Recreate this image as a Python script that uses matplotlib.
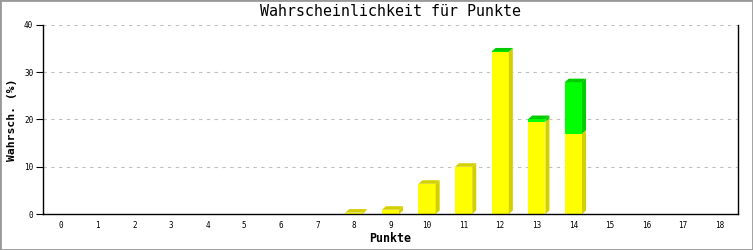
import numpy as np
import matplotlib
matplotlib.use('Agg')
import matplotlib.pyplot as plt
from matplotlib.patches import Polygon, Rectangle

# Data
punkte = list(range(19))
gelb = [0, 0, 0, 0, 0, 0, 0, 0, 0.3, 0.9, 6.4, 10.0, 34.3, 19.5, 17.0, 0, 0, 0, 0]
gruen = [0, 0, 0, 0, 0, 0, 0, 0, 0, 0, 0, 0, 0.1, 0.6, 10.9, 0, 0, 0, 0]

mono = 'DejaVu Sans Mono'
W, H = 753, 250
fig = plt.figure(figsize=(W / 100, H / 100), dpi=100)
ax_l, ax_r, ax_t, ax_b = 43, 738, 25, 214
ax = fig.add_axes([ax_l / W, 1 - ax_b / H, (ax_r - ax_l) / W, (ax_b - ax_t) / H])

x = np.array(punkte)
bw = 0.47
ax.set_xlim(-0.5, 18.5)
ax.set_ylim(0, 40)

# depth of the pseudo-3D faces, in data units (about 4 px)
px_x = (ax_r - ax_l) / 19.0
px_y = (ax_b - ax_t) / 40.0
dx = 4 / px_x
dy = 3.5 / px_y

front = [('#ffff00', '#d4d000'), ('#00ff00', '#00cc00')]
bottom = np.zeros(len(x))
tops = []
for vals, (fc, sc) in zip([gelb, gruen], front):
    vals = np.array(vals)
    bars = ax.bar(x, vals, bw, bottom=bottom, color=fc, zorder=3, linewidth=0)
    for b, v in zip(bars, vals):
        if v <= 0:
            continue
        x0, y0 = b.get_x(), b.get_y()
        x1, y1 = x0 + b.get_width(), y0 + b.get_height()
        side = Polygon([(x1, y0), (x1 + dx, y0 + dy), (x1 + dx, y1 + dy), (x1, y1)],
                       closed=True, facecolor=sc, edgecolor='none', zorder=3)
        ax.add_patch(side)
        tops.append((x0, x1, y1, sc))
    bottom = bottom + vals

# top faces: last drawn segment per bar wins
top_by_x = {}
for x0, x1, y1, sc in tops:
    top_by_x[x0] = (x1, y1, sc)
for x0, (x1, y1, sc) in top_by_x.items():
    ax.add_patch(Polygon([(x0, y1), (x0 + dx, y1 + dy), (x1 + dx, y1 + dy), (x1, y1)],
                         closed=True, facecolor=sc, edgecolor='none', zorder=3))

ax.set_yticks([0, 10, 20, 30, 40])
ax.set_xticks(x)
ax.set_xticklabels([str(p) for p in punkte], fontsize=5.5, family=mono)
ax.set_yticklabels(['0', '10', '20', '30', '40'], fontsize=5.5, family=mono)
ax.tick_params(axis='x', length=0, pad=5)
ax.tick_params(axis='y', length=5, width=0.8, pad=2)

ax.yaxis.grid(True, color='#c0c0c0', linestyle=(0, (3, 4)), linewidth=0.8, zorder=0)
ax.set_axisbelow(True)
ax.spines['top'].set_visible(False)
for s in ['left', 'right', 'bottom']:
    ax.spines[s].set_linewidth(1.0)
    ax.spines[s].set_zorder(4)

ax.set_xlabel('Punkte', fontsize=8.4, family=mono, fontweight='bold')
ax.xaxis.set_label_coords(0.5, (ax_b - 238) / (ax_b - ax_t))
ax.xaxis.label.set_va('center')
ax.set_ylabel('Wahrsch. (%)', fontsize=8.2, family=mono, fontweight='bold')
ax.yaxis.set_label_coords((12 - ax_l) / (ax_r - ax_l), 0.5)
ax.yaxis.label.set_va('center')
fig.text(0.5 * (ax_l + ax_r) / W, 1 - 12 / H, 'Wahrscheinlichkeit für Punkte',
         ha='center', va='center', fontsize=10.8, family=mono)

# grey frame around the image
fig.patches.append(Rectangle((0, 0), 1, 1, transform=fig.transFigure, fill=False,
                             edgecolor='#999999', linewidth=2))

fig.savefig('out.png', dpi=100)
